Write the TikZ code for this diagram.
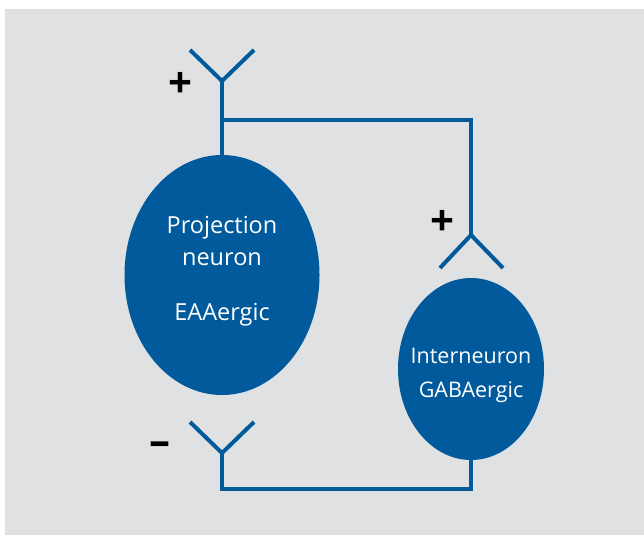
\documentclass[tikz,border=0pt]{standalone}
\usepackage{fontspec}
\setsansfont{Open Sans}
\usetikzlibrary{shapes}
\definecolor{neuronblue}{RGB}{0,90,156}
\definecolor{panelgray}{RGB}{224,225,227}

\begin{document}
\begin{tikzpicture}[x=1pt, y=-1pt,
    wire/.style={draw=neuronblue, line width=4pt},
    cell/.style={ellipse, fill=neuronblue, inner sep=0pt},
    celltext/.style={text=white, font=\sffamily, anchor=base, inner sep=0pt},
    sign/.style={font=\sffamily\bfseries\fontsize{42}{42}\selectfont, inner sep=0pt}]
  \useasboundingbox (0,0) rectangle (644,535);
  \fill[panelgray] (5,9) rectangle (644,535);

  % cell bodies
  \node[cell, minimum width=195pt, minimum height=240pt] (proj) at (222,275) {};
  \node[cell, minimum width=146pt, minimum height=182pt] (inter) at (471,369) {};
  \foreach[count=\i] \txt/\yy in {Projection/233, neuron/265, EAAergic/320} {
    \node[celltext, font=\sffamily\fontsize{23.5}{23.5}\selectfont] (proj-\i) at (222,\yy) {\txt};
  }
  \foreach[count=\i] \txt/\yy in {Interneuron/363, GABAergic/397} {
    \node[celltext, font=\sffamily\fontsize{21.5}{21.5}\selectfont] (inter-\i) at (471,\yy) {\txt};
  }

  % synapse forks
  \coordinate (fork-top) at (222,81);
  \coordinate (fork-right) at (471,235);
  \coordinate (fork-bottom) at (222,453);
  \coordinate (bend-top) at (222,120);
  \draw[wire] (190,50) -- (fork-top) -- (254,50);
  \draw[wire] (440,268) -- (fork-right) -- (503,268);
  \draw[wire] (190,422) -- (fork-bottom) -- (254,422);

  % wiring
  \draw[wire] (fork-top) -- (proj.north);
  \draw[wire] (bend-top) -- (fork-right |- bend-top) -- (fork-right);
  \draw[wire] (fork-bottom) -- (222,489) -| (inter.south);

  % signs
  \node[sign] (plus-top) at (180,85) {+};
  \node[sign] (plus-right) at (442,223) {+};
  \node[sign] (minus-bottom) at (160,449) {\textendash};
\end{tikzpicture}
\end{document}
